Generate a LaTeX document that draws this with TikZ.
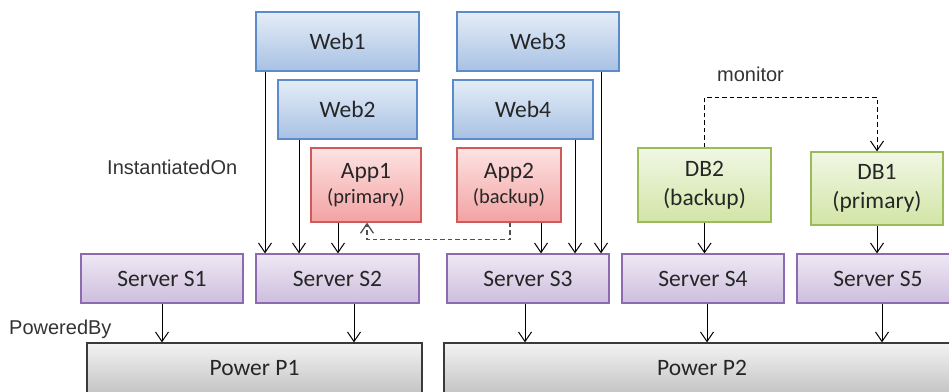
\documentclass[tikz,border=0pt]{standalone}
\usepackage{fontspec}
\setmainfont{Carlito}
\newfontfamily\labelfont{Liberation Sans}
\usetikzlibrary{arrows.meta}
\definecolor{txt}{HTML}{262626}
\definecolor{lbl}{HTML}{333333}
\definecolor{webT}{HTML}{E4EDF8}\definecolor{webB}{HTML}{A8C1E3}\definecolor{webD}{HTML}{5B8BC9}
\definecolor{appT}{HTML}{FDE3E3}\definecolor{appB}{HTML}{F3A2A2}\definecolor{appD}{HTML}{D05A5A}
\definecolor{dbT}{HTML}{F1F7E4}\definecolor{dbB}{HTML}{D2E5A6}\definecolor{dbD}{HTML}{9BBB59}
\definecolor{srvT}{HTML}{EFE8F4}\definecolor{srvB}{HTML}{CDBEDE}\definecolor{srvD}{HTML}{8C6BB1}
\definecolor{pwrT}{HTML}{F3F3F3}\definecolor{pwrB}{HTML}{C4C4C4}\definecolor{pwrD}{HTML}{3A3A3A}
\definecolor{dashgray}{HTML}{505050}
\tikzset{
  box/.style={rectangle, inner sep=0pt, line width=1.3pt, text=txt, align=center,
    font=\fontsize{23.5}{29}\selectfont},
  webbox/.style={box, draw=webD, top color=webT, bottom color=webB, minimum height=59pt},
  appbox/.style={box, draw=appD, top color=appT, bottom color=appB, minimum height=74pt},
  dbbox/.style={box, draw=dbD, top color=dbT, bottom color=dbB, minimum height=74pt},
  srvbox/.style={box, draw=srvD, top color=srvT, bottom color=srvB, minimum width=162pt, minimum height=49pt},
  pwrbox/.style={box, draw=pwrD, top color=pwrT, bottom color=pwrB, minimum height=50pt},
  lab/.style={anchor=base west, inner sep=0pt, text=lbl, font=\labelfont\fontsize{20}{24}\selectfont},
  arr/.style={line width=1pt, -{Straight Barb[length=9.5pt,width=13pt]}},
  darr/.style={arr, dash pattern=on 4.5pt off 3pt},
}
\begin{document}
\begin{tikzpicture}[x=1pt, y=-1pt]
\useasboundingbox (0,0) rectangle (949,391);
\clip (0,0) rectangle (949,391);
% Web tier
\node[webbox, minimum width=163pt] (web1) at (337.5,41.5) {Web1};
\node[webbox, minimum width=162pt] (web3) at (538,41.5) {Web3};
\node[webbox, minimum width=139pt] (web2) at (347.5,109.5) {Web2};
\node[webbox, minimum width=140pt] (web4) at (523,109.5) {Web4};
% App tier
\node[appbox, minimum width=110pt] (app1) at (366,185) {App1\\[-4pt]{\fontsize{20.5}{24}\selectfont (primary)}};
\node[appbox, minimum width=104pt] (app2) at (509,185) {App2\\[-4pt]{\fontsize{20.5}{24}\selectfont (backup)}};
% DB tier
\node[dbbox, minimum width=133pt] (db2) at (704.5,185) {DB2\\(backup)};
\node[dbbox, minimum width=132pt, minimum height=73pt] (db1) at (877,188.5) {DB1\\(primary)};
% Servers
\node[srvbox] (s1) at (162,278.5) {Server S1};
\node[srvbox, minimum width=163pt] (s2) at (337.5,278.5) {Server S2};
\node[srvbox] (s3) at (528,278.5) {Server S3};
\node[srvbox] (s4) at (703,278.5) {Server S4};
\node[srvbox] (s5) at (878,278.5) {Server S5};
% Power
\node[pwrbox, minimum width=335pt] (p1) at (254.5,368) {Power P1};
\node[pwrbox, minimum width=516pt] (p2) at (702,368) {Power P2};
% Labels
\node[lab] (linst) at (107,174) {InstantiatedOn};
\node[lab] (lpow) at (9,334) {PoweredBy};
\node[lab] (lmon) at (717,81) {monitor};
% InstantiatedOn connectors
\draw[arr] (web1.south -| 265,0) -- (s2.north -| 265,0);
\draw[arr] (web2.south -| 299,0) -- (s2.north -| 299,0);
\draw[arr] (app1.south -| 338,0) -- (s2.north -| 338,0);
\draw[arr] (app2.south -| 541,0) -- (s3.north -| 541,0);
\draw[arr] (web4.south -| 575,0) -- (s3.north -| 575,0);
\draw[arr] (web3.south -| 601,0) -- (s3.north -| 601,0);
\draw[arr] (db2.south) -- (s4.north -| db2.south);
\draw[arr] (db1.south) -- (s5.north -| db1.south);
% PoweredBy connectors
\draw[arr] (s1.south) -- (p1.north -| s1.south);
\draw[arr] (s2.south -| 354,0) -- (p1.north -| 354,0);
\draw[arr] (s3.south -| 525,0) -- (p2.north -| 525,0);
\draw[arr] (s4.south -| 707,0) -- (p2.north -| 707,0);
\draw[arr] (s5.south -| 882,0) -- (p2.north -| 882,0);
% Dashed relations
\draw[darr, draw=dashgray, line width=1.3pt] (app2.south -| 510,0) -- ++(0,17) -| (app1.south -| 367,0);
\draw[darr] (db2.north) -- ++(0,-50) -| (db1.north);
\end{tikzpicture}
\end{document}
